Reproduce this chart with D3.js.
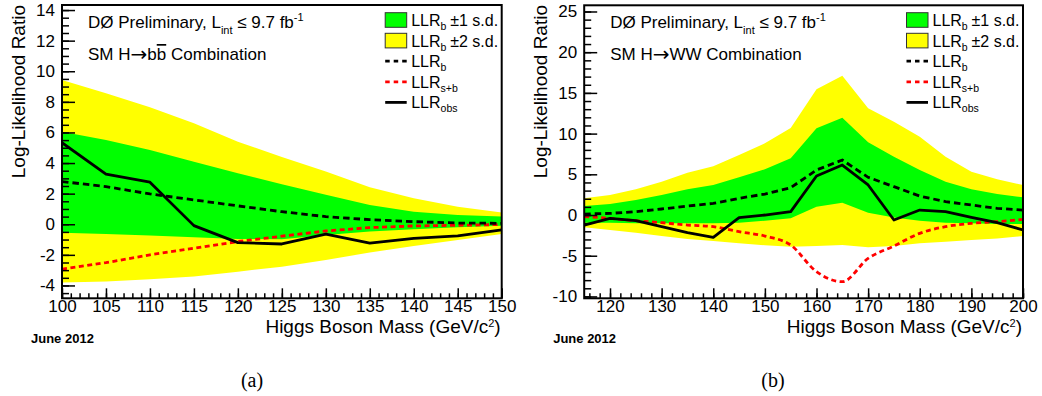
<!DOCTYPE html>
<html><head><meta charset="utf-8">
<script src="https://cdn.jsdelivr.net/npm/d3@7"></script>
<style>
html,body{margin:0;padding:0;background:#fff;}
svg{display:block;}
text{fill:#000;}
</style></head>
<body>
<svg id="chart" width="1042" height="396"></svg>
<script>
// ---------- Panel (a): SM H->bb ----------
const massA = [100,105,110,115,120,125,130,135,140,145,150];
const bbObs = [5.33,3.27,2.75,-0.09,-1.2,-1.29,-0.65,-1.24,-0.92,-0.76,-0.37];
const bbB   = [2.79,2.46,1.98,1.59,1.2,0.82,0.5,0.3,0.17,0.08,0.06];
const bbSB  = [-2.94,-2.51,-2.0,-1.57,-1.13,-0.78,-0.44,-0.22,-0.11,-0.07,-0.02];
const bb1Hi = [6.05,5.51,4.86,4.09,3.33,2.62,1.92,1.26,0.82,0.61,0.5];
const bb1Lo = [-0.55,-0.63,-0.74,-0.85,-0.96,-0.98,-0.7,-0.48,-0.33,-0.2,-0.1];
const bb2Hi = [9.43,8.56,7.65,6.6,5.4,4.4,3.44,2.42,1.7,1.15,0.76];
const bb2Lo = [-3.81,-3.75,-3.6,-3.42,-3.1,-2.77,-2.33,-1.85,-1.42,-1.03,-0.63];
const xRangeA = [100,150];
const yRangeA = [-4.84,14.33];
const xTicksA = [100,105,110,115,120,125,130,135,140,145,150];
const yTicksA = [-4,-2,0,2,4,6,8,10,12,14];

// ---------- Panel (b): SM H->WW ----------
const massB = [115,120,125,130,135,140,145,150,155,160,165,170,175,180,185,190,195,200];
const wwObs = [-1.23,-0.41,-0.7,-1.43,-2.17,-2.74,-0.33,0,0.41,4.79,6.14,3.69,-0.61,0.61,0.41,-0.29,-0.94,-1.84];
const wwB   = [0.12,0.2,0.41,0.74,1.1,1.43,2.05,2.58,3.35,5.53,6.76,4.63,3.48,2.33,1.64,1.23,0.82,0.61];
const wwSB  = [-0.2,-0.41,-0.7,-0.94,-1.23,-1.43,-2.05,-2.58,-3.69,-6.96,-8.19,-5.32,-3.81,-2.25,-1.43,-1.02,-0.82,-0.53];
const ww1Hi = [1.1,1.35,1.84,2.46,3.15,3.69,4.63,5.61,6.96,10.65,11.95,8.95,7.17,5.53,4.1,3.15,2.58,2.17];
const ww1Lo = [-0.94,-0.94,-1.02,-1.02,-1.02,-1.02,-0.94,-0.7,-0.41,1.02,1.51,0.29,-0.29,-0.7,-0.94,-1.02,-1.1,-1.1];
const ww2Hi = [2.05,2.46,3.15,4.1,5.2,6.0,7.37,8.8,10.7,15.44,17.1,13.1,11.46,9.6,7.17,5.3,4.38,3.69];
const ww2Lo = [-1.51,-1.84,-2.17,-2.58,-2.95,-3.19,-3.48,-3.72,-3.89,-3.81,-3.69,-3.97,-3.81,-3.48,-3.28,-3.07,-2.87,-2.58];
const xRangeB = [115,200];
const yRangeB = [-10.23,25.76];
const xTicksB = [120,130,140,150,160,170,180,190,200];
const yTicksB = [-10,-5,0,5,10,15,20,25];

const legendLabels = [
  {main:"LLR", sub:"b", extra:"\u00B11 s.d.", kind:"green"},
  {main:"LLR", sub:"b", extra:"\u00B12 s.d.", kind:"yellow"},
  {main:"LLR", sub:"b", extra:"", kind:"dashB"},
  {main:"LLR", sub:"s+b", extra:"", kind:"dashSB"},
  {main:"LLR", sub:"obs", extra:"", kind:"obs"}
];

const SANS = "'Liberation Sans', Arial, Helvetica, sans-serif";
const SERIF = "'Liberation Serif', 'Times New Roman', serif";
const svg = d3.select("#chart").style("font-family", SANS);

function drawPanel(o) {
  const g = svg.append("g");
  const x = d3.scaleLinear().domain(o.xRange).range([o.left, o.right]);
  const y = d3.scaleLinear().domain(o.yRange).range([o.bottom, o.top]);
  const clipId = "clip" + o.id;
  svg.append("clipPath").attr("id", clipId).append("rect")
    .attr("x", o.left).attr("y", o.top).attr("width", o.right - o.left).attr("height", o.bottom - o.top);

  const plot = g.append("g").attr("clip-path", `url(#${clipId})`);
  const idx = d3.range(o.mass.length);
  const band = (lo, hi) => d3.area().x(i => x(o.mass[i])).y0(i => y(lo[i])).y1(i => y(hi[i]));
  plot.append("path").attr("d", band(o.lo2, o.hi2)(idx)).attr("fill", "#ffff00");
  plot.append("path").attr("d", band(o.lo1, o.hi1)(idx)).attr("fill", "#00ff00");
  const line = (arr, curve) => d3.line().x(i => x(o.mass[i])).y(i => y(arr[i])).curve(curve || d3.curveLinear);
  plot.append("path").attr("d", line(o.sb, o.sbCurve)(idx)).attr("fill", "none")
    .attr("stroke", "#ff0000").attr("stroke-width", 2.8).attr("stroke-dasharray", "5,3.5");
  plot.append("path").attr("d", line(o.b)(idx)).attr("fill", "none")
    .attr("stroke", "#000").attr("stroke-width", 2.8).attr("stroke-dasharray", "6.5,4");
  plot.append("path").attr("d", line(o.obs)(idx)).attr("fill", "none")
    .attr("stroke", "#000").attr("stroke-width", 2.8).attr("stroke-linejoin", "round");

  // axes
  const fmt = d => String(d);
  const ax = g.append("g").attr("transform", `translate(${o.left},0)`);
  ax.call(d3.axisLeft(y).tickValues(o.yMinor).tickSize(-7).tickSizeOuter(0).tickFormat(""));
  ax.select(".domain").remove();
  const ax2 = g.append("g").attr("transform", `translate(${o.left},0)`);
  ax2.call(d3.axisLeft(y).tickValues(o.yTicks).tickSize(-13).tickSizeOuter(0).tickPadding(7).tickFormat(fmt));
  ax2.select(".domain").remove();
  const bx = g.append("g").attr("transform", `translate(0,${o.bottom})`);
  bx.call(d3.axisBottom(x).tickValues(o.xMinor).tickSize(-5).tickSizeOuter(0).tickFormat(""));
  bx.select(".domain").remove();
  const bx2 = g.append("g").attr("transform", `translate(0,${o.bottom})`);
  bx2.call(d3.axisBottom(x).tickValues(o.xTicks).tickSize(-10).tickSizeOuter(0).tickPadding(2).tickFormat(fmt));
  bx2.select(".domain").remove();
  g.selectAll(".tick line").attr("stroke", "#000").attr("stroke-width", 1.5);
  g.selectAll(".tick text").attr("font-family", null).style("font-family", SANS).attr("font-size", 17).attr("fill", "#000");

  // frame
  g.append("rect").attr("x", o.left).attr("y", o.top).attr("width", o.right - o.left).attr("height", o.bottom - o.top)
    .attr("fill", "none").attr("stroke", "#000").attr("stroke-width", 2);

  // titles
  const t1 = g.append("text").attr("x", o.left + 26).attr("y", 28).attr("font-size", 17);
  t1.append("tspan").text("D\u00D8 Preliminary, L");
  t1.append("tspan").attr("font-size", 11).attr("dy", 6).text("int");
  t1.append("tspan").attr("dy", -6).text(" \u2264 9.7 fb");
  t1.append("tspan").attr("font-size", 11).attr("dy", -7).text("-1");
  const t2 = g.append("text").attr("x", o.left + 26).attr("y", 60).attr("font-size", 17);
  t2.append("tspan").text("SM H");
  t2.append("tspan").style("font-family", "'DejaVu Sans', sans-serif").attr("font-size", 20).attr("dy", 0.5).text("\u2192");
  t2.append("tspan").attr("dy", -0.5).text(o.process[0]);
  if (o.process[1]) t2.append("tspan").style("text-decoration", "overline").text(o.process[1]);
  t2.append("tspan").text(o.process[2]);

  // axis titles
  const xt = g.append("text").attr("x", o.right - 1).attr("y", 332.5).attr("text-anchor", "end").attr("font-size", 19);
  xt.append("tspan").text("Higgs Boson Mass (GeV/c");
  xt.append("tspan").attr("font-size", 11).attr("dy", -5.5).text("2");
  xt.append("tspan").attr("dy", 5.5).text(")");
  g.append("text").attr("transform", `translate(${o.left - 37},5) rotate(-90)`).attr("text-anchor", "end")
    .attr("font-size", 19).text("Log-Likelihood Ratio");

  g.append("text").attr("x", o.left - 31).attr("y", 343).attr("font-size", 13).attr("font-weight", "bold").text("June 2012");
  g.append("text").attr("x", o.capX).attr("y", 387).attr("text-anchor", "middle")
    .style("font-family", SERIF).attr("font-size", 20).text(o.caption);

  // legend
  const lx = o.right - 116.5;
  legendLabels.forEach((d, i) => {
    const cy = 20 + i * 20.6;
    if (d.kind === "green" || d.kind === "yellow") {
      g.append("rect").attr("x", lx).attr("y", cy - 7.3).attr("width", 21.5).attr("height", 14.6)
        .attr("fill", d.kind === "green" ? "#00ff00" : "#ffff00").attr("stroke", "#333").attr("stroke-width", 1);
    } else if (d.kind === "obs") {
      g.append("line").attr("x1", lx).attr("x2", lx + 21.5).attr("y1", cy).attr("y2", cy)
        .attr("stroke", "#000").attr("stroke-width", 2.8);
    } else {
      g.append("line").attr("x1", lx).attr("x2", lx + 21.5).attr("y1", cy).attr("y2", cy)
        .attr("stroke", d.kind === "dashSB" ? "#ff0000" : "#000").attr("stroke-width", 2.8)
        .attr("stroke-dasharray", "4.5,4");
    }
    const t = g.append("text").attr("x", lx + 26).attr("y", cy + 6).attr("font-size", 16);
    t.append("tspan").text(d.main);
    t.append("tspan").attr("font-size", 10.5).attr("dy", 4).text(d.sub);
    if (d.extra) {
      g.append("text").attr("x", lx + 65).attr("y", cy + 6).attr("font-size", 16).text(d.extra);
    }
  });
}

drawPanel({
  id: "A", left: 62, right: 501.7, top: 5, bottom: 298.3,
  xRange: xRangeA, yRange: yRangeA, xTicks: xTicksA, yTicks: yTicksA,
  xMinor: d3.range(100, 150.01, 1), yMinor: d3.range(-4.5, 14.01, 0.5),
  mass: massA, obs: bbObs, b: bbB, sb: bbSB, hi1: bb1Hi, lo1: bb1Lo, hi2: bb2Hi, lo2: bb2Lo,
  process: ["b", "b", " Combination"], caption: "(a)", capX: 252
});
drawPanel({
  id: "B", left: 584.2, right: 1023, top: 5.3, bottom: 298.3,
  xRange: xRangeB, yRange: yRangeB, xTicks: xTicksB, yTicks: yTicksB,
  xMinor: d3.range(116, 200.01, 2), yMinor: d3.range(-10, 25.01, 1),
  mass: massB, obs: wwObs, b: wwB, sb: wwSB, hi1: ww1Hi, lo1: ww1Lo, hi2: ww2Hi, lo2: ww2Lo,
  sbCurve: d3.curveMonotoneX,
  process: ["WW Combination", "", ""], caption: "(b)", capX: 773
});
</script>
</body></html>
